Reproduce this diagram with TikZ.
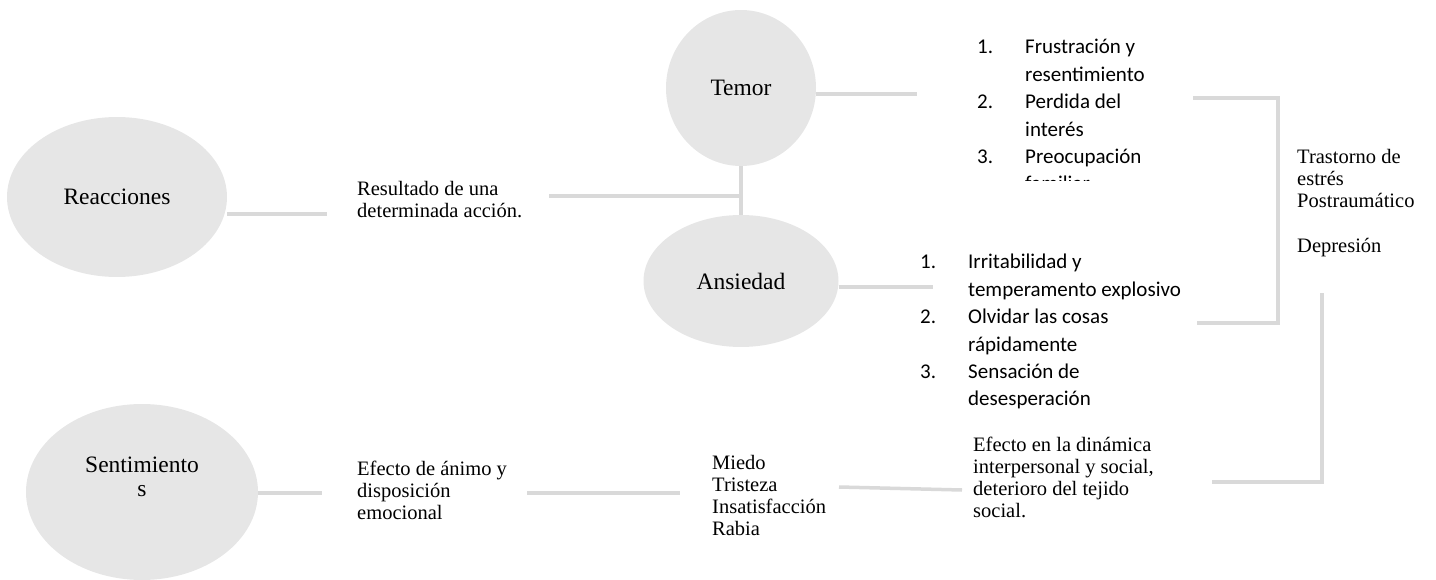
\documentclass[tikz,border=0pt]{standalone}
\usepackage{fontspec}
\setmainfont{Liberation Serif}
\newfontfamily\listfont{Carlito}
\usetikzlibrary{positioning, shapes.geometric, backgrounds}
\definecolor{bubblegray}{RGB}{230,230,230}
\definecolor{linkgray}{RGB}{217,217,217}

\begin{document}
\begin{tikzpicture}[x=1pt, y=-1pt,
  bubble/.style={ellipse, fill=bubblegray, inner sep=0pt,
                 font=\fontsize{23.5}{24}\selectfont},
  note/.style={align=left, inner sep=0pt, anchor=west,
               font=\fontsize{20.5}{22}\selectfont},
  steplist/.style={inner sep=0pt, anchor=base west,
                   font=\listfont\fontsize{21}{27.4}\selectfont},
  link/.style={draw=linkgray, line width=3.5pt}
]
  \useasboundingbox (0,0) rectangle (1436,580);

  % Bubbles
  \node[bubble, minimum width=220pt, minimum height=160pt] (reac) at (117,197) {Reacciones};
  \node[bubble, minimum width=150pt, minimum height=156pt] (temor) at (741,88) {Temor};
  \node[bubble, minimum width=195pt, minimum height=132pt] (ans) at (741,281) {Ansiedad};
  \node[bubble, minimum width=232pt, minimum height=176pt] (sent) at (142,492) {};
  \node[bubble, fill=none, align=center] (sentlbl) at (142,477) {Sentimiento\\s};

  % Texts
  \node[note] (res) at (357,200) {Resultado de una\\determinada acción.};
  \node[note] (trast) at (1297,203) {Trastorno de\\estrés\\Postraumático\\[23pt]Depresión};
  \node[note] (efa) at (357,490) {Efecto de ánimo y\\disposición\\emocional};
  \node[note] (mied) at (712,495) {Miedo\\Tristeza\\Insatisfacción\\Rabia};
  \node[note] (efb) at (973,477) {Efecto en la dinámica\\interpersonal y social,\\deterioro del tejido\\social.};

  % Lists (the first one is cut by its box)
  \begin{scope}
    \clip (960,15) rectangle (1200,181);
    \node[steplist] (temlist) at (977,54) {\begin{tabular}[t]{@{}p{48pt}@{}l@{}}
      1. & Frustración y\\ & resentimiento\\
      2. & Perdida del\\ & interés\\
      3. & Preocupación\\ & familiar
    \end{tabular}};
  \end{scope}
  \node[steplist] (anslist) at (920,269) {\begin{tabular}[t]{@{}p{48pt}@{}l@{}}
    1. & Irritabilidad y\\ & temperamento explosivo\\
    2. & Olvidar las cosas\\ & rápidamente\\
    3. & Sensación de\\ & desesperación
  \end{tabular}};

  % Free ends of the connectors
  \coordinate (rx) at (327,214);
  \coordinate (jx) at (549,196);
  \coordinate (tx) at (917,94);
  \coordinate (ax) at (933,287);
  \coordinate (ba) at (1193,98);
  \coordinate (bb) at (1197,323);
  \coordinate (bc) at (1212,482);
  \coordinate (bd) at (1322,293);
  \coordinate (sx) at (322,493);
  \coordinate (ea) at (527,493);
  \coordinate (eb) at (680,493);
  \coordinate (ma) at (839,487);
  \coordinate (mb) at (962,490);

  % Connectors
  \begin{scope}[on background layer]
    \draw[link] (reac.east |- rx) -- (rx);
    \draw[link] (temor.south) -- (temor.south |- ans.north);
    \draw[link] (jx) -- (jx -| temor.south);
    \draw[link] (temor.east |- tx) -- (tx);
    \draw[link] (ans.east |- ax) -- (ax);
    \draw[link] (ba) -- ++(85,0) |- (bb);
    \draw[link] (bc) -| (bd);
    \draw[link] (sent.east |- sx) -- (sx);
    \draw[link] (ea) -- (eb);
    \draw[link] (ma) -- (mb);
  \end{scope}
\end{tikzpicture}
\end{document}
